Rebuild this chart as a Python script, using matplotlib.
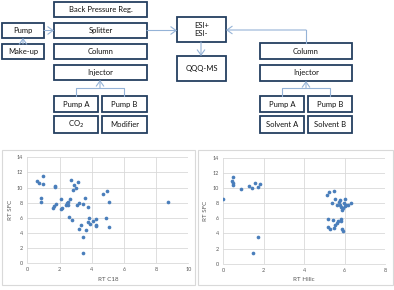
import matplotlib
matplotlib.use('Agg')
import matplotlib.pyplot as plt
from matplotlib.patches import Rectangle, FancyArrowPatch

plt.rcParams['font.family'] = ['Lato', 'DejaVu Sans']

# retention times, C18 vs SFC
c18_rt = [0.60, 0.75, 0.97, 0.95, 0.85, 0.85, 1.70, 1.74, 1.61, 1.68, 1.76, 2.07, 2.09, 2.15,
          2.38, 2.44, 2.50, 2.55, 2.63, 2.69, 2.57, 2.77, 2.84, 2.88, 3.00, 3.15, 3.06, 3.19,
          3.48, 3.60, 3.79, 3.81, 3.77, 3.91, 4.06, 4.24, 4.29, 4.29, 3.64, 3.21, 3.35, 3.48,
          3.48, 4.72, 4.93, 5.07, 4.91, 5.07, 8.74]
c18_sfc = [10.88, 10.57, 11.50, 10.44, 8.59, 8.10, 10.26, 10.04, 7.27, 7.58, 7.80, 8.50, 7.18, 7.36,
           7.67, 7.93, 8.15, 7.75, 8.55, 11.00, 6.08, 5.77, 9.69, 10.35, 9.90, 10.75, 7.70, 7.93,
           7.80, 8.59, 7.44, 5.95, 5.42, 5.15, 5.59, 5.86, 5.07, 4.89, 4.40, 4.58, 5.02, 3.52,
           1.41, 9.12, 9.51, 8.06, 5.99, 4.76, 8.15]

# retention times, HILIC vs SFC
hilic_rt = [0.00, 0.43, 0.48, 0.49, 0.49, 0.87, 1.28, 1.43, 1.58, 1.74, 1.84, 1.74, 1.46,
            5.14, 5.24, 5.45, 5.39, 5.52, 5.60, 5.71, 5.78, 6.01, 5.94, 6.05, 5.83, 5.88, 5.93,
            6.14, 6.31, 5.19, 5.42, 5.19, 5.27, 5.45, 5.52, 5.62, 5.65, 5.80, 5.81, 5.86, 5.93,
            6.00, 5.76]
hilic_sfc = [8.50, 10.90, 11.40, 10.66, 10.35, 9.82, 10.22, 10.00, 10.66, 10.18, 10.48, 3.48, 1.37,
             9.03, 9.43, 9.60, 8.06, 8.50, 7.80, 8.15, 8.37, 8.50, 8.00, 7.80, 7.49, 7.14, 7.36,
             7.71, 8.06, 5.95, 5.77, 4.89, 4.63, 4.76, 5.07, 5.42, 5.59, 5.90, 5.68, 4.58, 4.36,
             7.60, 7.70]

fig = plt.figure(figsize=(3.94, 2.90), dpi=100)

# overlay in pixel coordinates for the flow diagram and panel frames
bg = fig.add_axes([0, 0, 1, 1])
bg.set_xlim(0, 394)
bg.set_ylim(290, 0)
bg.axis('off')

box_edge = '#243f60'
arrow_col = '#95b3d7'


def box(x0, y0, x1, y1, label):
    bg.add_patch(Rectangle((x0, y0), x1 - x0, y1 - y0, facecolor='white',
                           edgecolor=box_edge, lw=1.3))
    bg.text((x0 + x1) / 2, (y0 + y1) / 2, label, ha='center', va='center',
            fontsize=5.5, color='#111111', linespacing=1.3)


def arrow(pts):
    xs = [p[0] for p in pts]
    ys = [p[1] for p in pts]
    bg.plot(xs[:-1], ys[:-1], color=arrow_col, lw=0.8)
    bg.add_patch(FancyArrowPatch(pts[-2], pts[-1], arrowstyle='->,head_length=2.5,head_width=1.8',
                                 color=arrow_col, lw=0.8, mutation_scale=1.5,
                                 shrinkA=0, shrinkB=0))


# SFC branch
box(54, 2, 147, 17, 'Back Pressure Reg.')
box(54, 23, 147, 38, 'Splitter')
box(54, 44, 147, 59, 'Column')
box(54, 65, 147, 80, 'Injector')
box(54, 96, 98, 112, 'Pump A')
box(102, 96, 147, 112, 'Pump B')
box(54, 116, 98, 133, 'CO$_2$')
box(102, 116, 147, 133, 'Modifier')
box(2, 23, 44, 38, 'Pump')
box(2, 44, 44, 59, 'Make-up')

# MS
box(177, 17, 226, 42, 'ESI+\nESI-')
box(177, 56, 226, 81, 'QQQ-MS')

# HILIC / C18 branch
box(260, 43, 352, 59, 'Column')
box(260, 65, 352, 81, 'Injector')
box(260, 96, 304, 112, 'Pump A')
box(308, 96, 352, 112, 'Pump B')
box(260, 116, 304, 133, 'Solvent A')
box(308, 116, 352, 133, 'Solvent B')

arrow([(23, 44), (23, 38)])
arrow([(44, 30.5), (54, 30.5)])
arrow([(147, 30.5), (177, 30.5)])
arrow([(201, 42), (201, 56)])
arrow([(306, 43), (306, 30), (226, 30)])
bg.plot([76, 76, 124, 124], [96, 88, 88, 96], color=arrow_col, lw=0.8)
arrow([(100, 88), (100, 80)])
bg.plot([282, 282, 330, 330], [96, 88, 88, 96], color=arrow_col, lw=0.8)
arrow([(306, 88), (306, 81)])

# chart frames
for x0, x1 in [(2, 195), (198, 393)]:
    bg.add_patch(Rectangle((x0, 150), x1 - x0, 135, facecolor='white',
                           edgecolor='#d9d9d9', lw=0.8))

dot_col = '#4a7ebb'
tick_col = '#595959'


def style(ax, xmax, xlabel):
    ax.set_xlim(0, xmax)
    ax.set_ylim(0, 14)
    ax.set_xticks(range(0, xmax + 1, 2))
    ax.set_yticks(range(0, 15, 2))
    ax.grid(True, color='#d9d9d9', lw=0.6)
    ax.set_axisbelow(True)
    for s in ax.spines.values():
        s.set_visible(False)
    ax.spines['bottom'].set_visible(True)
    ax.spines['bottom'].set_color('#d9d9d9')
    ax.spines['bottom'].set_linewidth(0.6)
    ax.tick_params(length=0, labelsize=4, colors=tick_col, pad=3)
    ax.set_xlabel(xlabel, fontsize=4.5, color=tick_col, labelpad=3)
    ax.set_ylabel('RT SFC', fontsize=4.5, color=tick_col, labelpad=3)
    ax.patch.set_alpha(0)


ax1 = fig.add_axes([27.3 / 394, 1 - 263.3 / 290, 161 / 394, 106 / 290])
ax1.scatter(c18_rt, c18_sfc, s=7, color=dot_col, linewidths=0)
style(ax1, 10, 'RT C18')

ax2 = fig.add_axes([223 / 394, 1 - 263.7 / 290, 162.3 / 394, 106 / 290])
ax2.scatter(hilic_rt, hilic_sfc, s=7, color=dot_col, linewidths=0)
style(ax2, 8, 'RT Hilic')

fig.savefig('out.png', dpi=100)
